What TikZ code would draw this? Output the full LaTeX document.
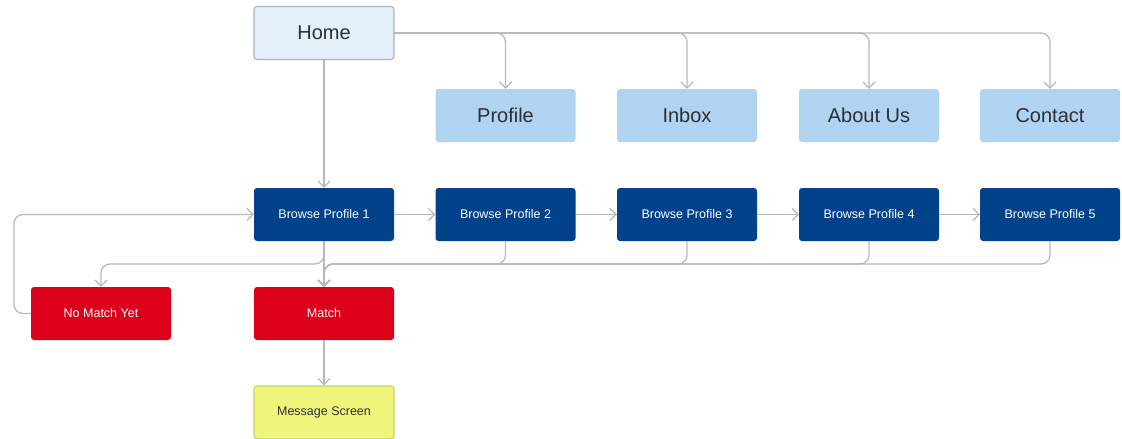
\documentclass[tikz,border=0pt]{standalone}
\usepackage{fontspec}
\setmainfont{Liberation Sans}
\usetikzlibrary{arrows.meta,calc}
\definecolor{homefill}{HTML}{E4EFFA}
\definecolor{homeline}{HTML}{A7B3BF}
\definecolor{topfill}{HTML}{B0D3F2}
\definecolor{darkblue}{HTML}{02428A}
\definecolor{redbox}{HTML}{DD001B}
\definecolor{yellowfill}{HTML}{EFF67B}
\definecolor{yellowline}{HTML}{C9CF63}
\definecolor{txt}{HTML}{2B2F36}
\definecolor{wire}{HTML}{B8B8B8}
\tikzset{
  box/.style={minimum width=140pt,minimum height=53pt,rounded corners=3pt,inner sep=0pt},
  homebox/.style={box,fill=homefill,draw=homeline,line width=1.2pt,text=txt,font=\fontsize{20}{24}\selectfont},
  topbox/.style={box,fill=topfill,text=txt,font=\fontsize{20}{24}\selectfont},
  bluebox/.style={box,fill=darkblue,text=white,font=\fontsize{12.5}{15}\selectfont},
  redbx/.style={box,fill=redbox,text=white,font=\fontsize{12.5}{15}\selectfont},
  msgbox/.style={box,fill=yellowfill,draw=yellowline,line width=1.2pt,text=txt,font=\fontsize{12.5}{15}\selectfont},
  wirearrow/.style={draw=wire,line width=1.3pt,rounded corners=9pt,-{Straight Barb[length=6pt,width=12pt,line width=1.2pt]}},
  wireline/.style={draw=wire,line width=1.3pt,rounded corners=9pt}
}
\begin{document}
\begin{tikzpicture}[x=1pt,y=-1pt]
\useasboundingbox (0,0) rectangle (1122,439);
\node[homebox] (home) at (324,33) {Home};
\node[topbox] (profile) at (505.5,115.5) {Profile};
\node[topbox] (inbox) at (687,115.5) {Inbox};
\node[topbox] (about) at (869,115.5) {About Us};
\node[topbox] (contact) at (1050,115.5) {Contact};
\node[bluebox] (bp1) at (324,214.5) {Browse Profile 1};
\node[bluebox] (bp2) at (505.5,214.5) {Browse Profile 2};
\node[bluebox] (bp3) at (687,214.5) {Browse Profile 3};
\node[bluebox] (bp4) at (869,214.5) {Browse Profile 4};
\node[bluebox] (bp5) at (1050,214.5) {Browse Profile 5};
\node[redbx] (nomatch) at (101,313.5) {No Match Yet};
\node[redbx] (match) at (324,313.5) {Match};
\node[msgbox] (msg) at (324,412.5) {Message Screen};
\coordinate (j) at (324,264);
\coordinate (k) at (101,264);
\coordinate (lp) at (14,264);
% home to top row
\path[wirearrow] (home.east) -| (profile.north);
\path[wirearrow] (home.east) -| (inbox.north);
\path[wirearrow] (home.east) -| (about.north);
\path[wirearrow] (home.east) -| (contact.north);
\path[wirearrow] (home.south) -- (bp1.north);
% browse chain
\path[wirearrow] (bp1.east) -- (bp2.west);
\path[wirearrow] (bp2.east) -- (bp3.west);
\path[wirearrow] (bp3.east) -- (bp4.west);
\path[wirearrow] (bp4.east) -- (bp5.west);
% to match
\path[wirearrow] (bp1.south) -- (match.north);
\path[wirearrow] (bp2.south) |- (j) -- (match.north);
\path[wirearrow] (bp3.south) |- (j) -- (match.north);
\path[wirearrow] (bp4.south) |- (j) -- (match.north);
\path[wirearrow] (bp5.south) |- (j) -- (match.north);
\path[wirearrow] (bp1.south) |- (k) -- (nomatch.north);
% loop back
\path[wirearrow] (nomatch.west) -| (lp) |- (bp1.west);
\path[wirearrow] (match.south) -- (msg.north);
\end{tikzpicture}
\end{document}
